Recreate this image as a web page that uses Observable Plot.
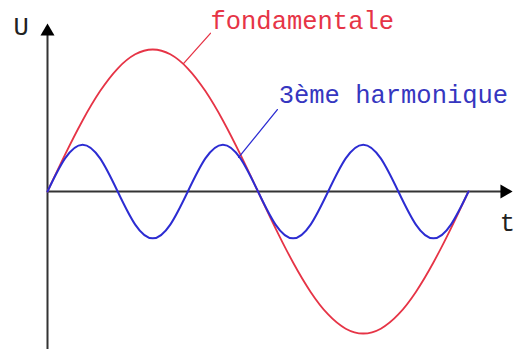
<!DOCTYPE html>
<html>
<head>
<meta charset="utf-8">
<script src="https://cdn.jsdelivr.net/npm/d3@7"></script>
<script src="https://cdn.jsdelivr.net/npm/@observablehq/plot@0.6"></script>
<style>
  html, body { margin: 0; padding: 0; background: #fff; }
</style>
</head>
<body>
<div id="chart"></div>
<script>
// time samples (fraction of the fundamental period)
const tSamples = [0, 1/24, 2/24, 3/24, 4/24, 5/24, 6/24, 7/24, 8/24, 9/24, 10/24, 11/24, 12/24,
  13/24, 14/24, 15/24, 16/24, 17/24, 18/24, 19/24, 20/24, 21/24, 22/24, 23/24, 1];
// fundamental (red)
const fondamentale = [0, 0.259, 0.5, 0.707, 0.866, 0.966, 1, 0.966, 0.866, 0.707, 0.5, 0.259, 0,
  -0.259, -0.5, -0.707, -0.866, -0.966, -1, -0.966, -0.866, -0.707, -0.5, -0.259, 0];
// third harmonic (blue)
const harmonique3 = [0, 0.233, 0.33, 0.233, 0, -0.233, -0.33, -0.233, 0,
  0.233, 0.33, 0.233, 0, -0.233, -0.33, -0.233, 0,
  0.233, 0.33, 0.233, 0, -0.233, -0.33, -0.233, 0];

// labels
const labelTexts = ["fondamentale", "3ème harmonique"];
const labelPos = [[0.387, 1.145], [0.549, 0.62]];
const leaderLines = [[[0.387, 1.114], [0.323, 0.901]], [[0.546, 0.577], [0.454, 0.24]]];
const axisLabels = ["U", "t"];
const axisLabelPos = [[-0.081, 1.10], [1.074, -0.275]];

const red = "#e63446";
const blue = "#2c2cd2";
const font = "Liberation Mono, DejaVu Sans Mono, monospace";

const redData = tSamples.map((t, i) => ({t, v: fondamentale[i]}));
const blueData = tSamples.map((t, i) => ({t, v: harmonique3[i]}));

const chart = Plot.plot({
  width: 514,
  height: 349,
  margin: 0,
  x: {domain: [0, 1], range: [47, 468], axis: null},
  y: {domain: [-1, 1], range: [333, 49], axis: null},
  style: {background: "#fff", overflow: "visible"},
  marks: [
    // axes
    Plot.ruleY([0], {x1: 0, x2: 1.083, stroke: "#333", strokeWidth: 2}),
    Plot.ruleX([0], {y1: -1.15, y2: 1.12, stroke: "#333", strokeWidth: 2}),
    Plot.dot([{x: 0, y: 1.127}], {x: "x", y: "y", symbol: "triangle", r: 5.2, fill: "#000", stroke: "none"}),
    Plot.dot([{x: 1.0855, y: 0}], {x: "x", y: "y", symbol: "triangle", r: 5.2, fill: "#000", stroke: "none", rotate: 90}),
    // curves
    Plot.line(redData, {x: "t", y: "v", stroke: red, strokeWidth: 1.8, curve: "natural"}),
    Plot.line(blueData, {x: "t", y: "v", stroke: blue, strokeWidth: 2, curve: "natural"}),
    // leader lines
    Plot.line(leaderLines[0], {x: d => d[0], y: d => d[1], stroke: red, strokeWidth: 1.3}),
    Plot.line(leaderLines[1], {x: d => d[0], y: d => d[1], stroke: blue, strokeWidth: 1.3}),
    // labels
    Plot.text([0], {x: labelPos[0][0], y: labelPos[0][1], text: () => labelTexts[0], textAnchor: "start", lineAnchor: "bottom", fill: red, fontSize: 25.5, fontFamily: font}),
    Plot.text([0], {x: labelPos[1][0], y: labelPos[1][1], text: () => labelTexts[1], textAnchor: "start", lineAnchor: "bottom", fill: "#3636c0", fontSize: 25.5, fontFamily: font}),
    Plot.text(axisLabels, {x: (d, i) => axisLabelPos[i][0], y: (d, i) => axisLabelPos[i][1], text: d => d, textAnchor: "start", lineAnchor: "bottom", fill: "#222", fontSize: 25.5, fontFamily: font})
  ]
});
document.getElementById("chart").appendChild(chart);
</script>
</body>
</html>
